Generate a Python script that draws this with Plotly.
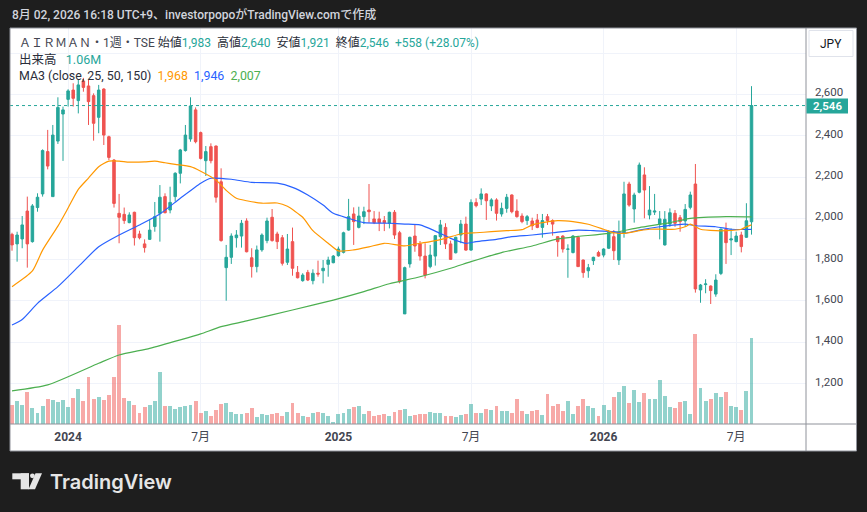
import plotly.graph_objects as go
import pandas as pd

# ---------------- data (weekly bars, AIRMAN / TSE) ----------------
start_week = "2023-10-16"

opens = [1922, 1876, 1900, 2035, 1887, 2052, 2118, 2323, 2105, 2374,
         2505, 2576, 2621, 2570, 2665, 2641, 2594, 2489, 2626, 2395,
         2282, 2024, 2019, 1979, 2029, 1924, 1876, 1898, 1960, 2024,
         2105, 2040, 2105, 2218, 2328, 2384, 2525, 2415, 2279, 2347,
         2350, 2177, 1761, 1811, 1906, 1914, 1987, 1809, 1766, 1847,
         1892, 2005, 1924, 1906, 1787, 1887, 1738, 1698, 1738, 1698,
         1734, 1746, 1777, 1785, 1819, 1835, 1943, 2021, 1956, 2008,
         2040, 1997, 1997, 1989, 1976, 2029, 1930, 1537, 1779, 1914,
         1876, 1817, 1766, 1817, 1911, 1956, 1876, 1833, 1919, 1972,
         1846, 2076, 2093, 2118, 2060, 2089, 2021, 2048, 2113, 2035,
         2011, 1989, 1987, 1992, 1956, 2008, 1989, 1911, 1914, 1850,
         1834, 1908, 1798, 1746, 1795, 1834, 1822, 1855, 1911, 1798,
         1927, 2166, 2045, 2126, 2210, 2016, 2030, 1971, 1871, 1972,
         2024, 2003, 1987, 2053, 2166, 1653, 1679, 1672, 1633, 1733,
         1947, 1895, 1887, 1919, 1908, 1983]
highs = [1930, 1935, 2011, 2105, 2069, 2121, 2334, 2428, 2452, 2586,
         2541, 2625, 2654, 2670, 2680, 2670, 2605, 2646, 2630, 2400,
         2287, 2118, 2052, 2029, 2032, 1940, 1898, 1992, 2079, 2161,
         2121, 2153, 2223, 2336, 2452, 2586, 2537, 2420, 2350, 2363,
         2352, 2242, 1871, 1927, 1943, 1992, 2000, 1855, 1868, 1927,
         2003, 2045, 1935, 1919, 1924, 1955, 1769, 1734, 1750, 1753,
         1795, 1798, 1814, 1822, 1863, 1935, 2094, 2053, 2056, 2056,
         2166, 2035, 2032, 2011, 2032, 2040, 1939, 1766, 1911, 1968,
         1890, 1879, 1871, 1919, 1992, 1976, 1892, 1911, 1992, 2008,
         2092, 2097, 2145, 2121, 2097, 2097, 2076, 2118, 2116, 2092,
         2024, 2016, 2003, 2021, 2021, 2021, 1995, 1914, 1918, 1874,
         1919, 1911, 1800, 1779, 1814, 1843, 1855, 1943, 1943, 1989,
         2177, 2177, 2124, 2270, 2247, 2156, 2118, 2035, 2035, 2048,
         2040, 2016, 2069, 2129, 2263, 1682, 1705, 1675, 1729, 1951,
         1979, 1951, 1935, 1935, 2073, 2640]
lows = [1843, 1790, 1855, 1761, 1882, 2032, 2105, 2237, 2105, 2360,
        2278, 2541, 2541, 2508, 2613, 2452, 2376, 2412, 2355, 2282,
        2052, 1879, 1973, 1976, 1868, 1898, 1834, 1895, 1935, 1887,
        2024, 2024, 2081, 2169, 2323, 2371, 2363, 2285, 2205, 2266,
        2076, 1887, 1601, 1779, 1858, 1858, 1835, 1713, 1738, 1838,
        1879, 1887, 1851, 1771, 1774, 1722, 1709, 1693, 1696, 1680,
        1717, 1685, 1717, 1782, 1814, 1830, 1940, 1871, 1951, 1972,
        1979, 1972, 1938, 1938, 1951, 1900, 1685, 1537, 1761, 1838,
        1795, 1709, 1758, 1771, 1871, 1851, 1798, 1830, 1879, 1843,
        1843, 2053, 2064, 1992, 2035, 1989, 2008, 2027, 2024, 2003,
        1976, 1968, 1943, 1952, 1906, 1968, 1916, 1814, 1834, 1712,
        1830, 1766, 1712, 1712, 1774, 1814, 1811, 1851, 1798, 1774,
        1906, 2056, 1979, 2121, 2000, 1995, 2016, 1898, 1868, 1959,
        1959, 1935, 1959, 2043, 1640, 1591, 1637, 1585, 1620, 1725,
        1779, 1822, 1884, 1835, 1905, 1921]
closes = [1871, 1919, 1968, 1876, 2060, 2102, 2328, 2253, 2403, 2537,
          2525, 2617, 2581, 2646, 2634, 2565, 2460, 2621, 2403, 2295,
          2072, 2005, 1989, 2016, 1906, 1906, 1858, 1943, 2008, 2102,
          2027, 2077, 2218, 2331, 2403, 2544, 2371, 2290, 2323, 2279,
          2102, 1892, 1811, 1914, 1919, 1976, 1838, 1766, 1847, 1919,
          1987, 1892, 1887, 1782, 1851, 1758, 1712, 1725, 1701, 1734,
          1730, 1758, 1798, 1817, 1851, 1930, 2008, 1984, 2011, 2032,
          2032, 1979, 1979, 1979, 2029, 1919, 1693, 1761, 1908, 1866,
          1817, 1725, 1822, 1916, 1968, 1876, 1801, 1908, 1972, 1846,
          2077, 2061, 2118, 2085, 2089, 2024, 2048, 2102, 2032, 2008,
          1984, 2008, 1964, 1956, 1989, 1989, 1972, 1887, 1851, 1851,
          1914, 1766, 1737, 1761, 1811, 1817, 1851, 1932, 1843, 1930,
          2118, 2064, 2113, 2258, 2137, 2040, 2035, 1997, 1995, 2027,
          1976, 1984, 2043, 2113, 1658, 1677, 1682, 1650, 1701, 1947,
          1882, 1900, 1914, 1863, 1988, 2546]
volume_m = [0.235, 0.285, 0.235, 0.396, 0.198, 0.136, 0.223, 0.309, 0.297, 0.272,
            0.297, 0.210, 0.322, 0.433, 0.285, 0.581, 0.309, 0.334, 0.297, 0.359,
            0.581, 1.225, 0.322, 0.285, 0.235, 0.136, 0.210, 0.235, 0.285, 0.643,
            0.223, 0.223, 0.186, 0.210, 0.223, 0.235, 0.285, 0.136, 0.161, 0.099,
            0.173, 0.247, 0.260, 0.148, 0.124, 0.124, 0.136, 0.198, 0.087, 0.124,
            0.111, 0.124, 0.136, 0.099, 0.148, 0.260, 0.136, 0.099, 0.087, 0.136,
            0.148, 0.136, 0.099, 0.025, 0.124, 0.136, 0.186, 0.210, 0.223, 0.124,
            0.161, 0.099, 0.111, 0.124, 0.099, 0.148, 0.173, 0.186, 0.099, 0.111,
            0.124, 0.124, 0.148, 0.136, 0.136, 0.099, 0.099, 0.087, 0.111, 0.124,
            0.247, 0.136, 0.136, 0.186, 0.173, 0.223, 0.161, 0.161, 0.136, 0.309,
            0.161, 0.124, 0.161, 0.173, 0.111, 0.371, 0.223, 0.247, 0.161, 0.285,
            0.124, 0.223, 0.309, 0.223, 0.198, 0.099, 0.235, 0.173, 0.334, 0.396,
            0.470, 0.260, 0.421, 0.272, 0.384, 0.309, 0.309, 0.544, 0.346, 0.210,
            0.198, 0.272, 0.285, 0.124, 1.113, 0.445, 0.285, 0.309, 0.384, 0.334,
            0.396, 0.223, 0.210, 0.173, 0.408, 1.060]

# moving averages (bar index, value)
ma25_idx = [0, 4, 6, 9, 11, 13, 15, 17, 19, 21, 23, 26, 28, 30, 32, 35, 37, 40, 42, 44,
            46, 49, 52, 54, 57, 59, 62, 64, 67, 70, 73, 77, 80, 82, 85, 88, 91, 94, 97, 100,
            102, 104, 107, 110, 113, 116, 118, 120, 123, 125, 128, 130, 132, 133, 135, 138,
            140, 143, 144, 145]
ma25_val = [1669, 1745, 1846, 1962, 2050, 2140, 2195, 2250, 2277, 2277, 2272, 2273, 2277,
            2269, 2261, 2250, 2228, 2185, 2135, 2097, 2085, 2073, 2074, 2058, 2005, 1940,
            1879, 1842, 1847, 1862, 1879, 1866, 1879, 1887, 1903, 1924, 1930, 1935, 1940,
            1945, 1968, 1979, 1989, 1984, 1971, 1947, 1930, 1927, 1940, 1947, 1947, 1947,
            1959, 1972, 1947, 1940, 1940, 1947, 1959, 1968]
ma50_idx = [0, 2, 5, 9, 13, 17, 21, 25, 29, 33, 37, 39, 43, 47, 52, 55, 58, 61, 63, 66,
            69, 74, 77, 80, 83, 86, 89, 91, 95, 98, 102, 106, 111, 114, 118, 120, 123, 127,
            132, 134, 138, 141, 145]
ma50_val = [1483, 1510, 1588, 1669, 1766, 1862, 1919, 1968, 2021, 2097, 2170, 2194, 2189,
            2174, 2170, 2150, 2113, 2064, 2024, 2000, 1979, 1976, 1972, 1968, 1938, 1903,
            1879, 1887, 1898, 1911, 1919, 1930, 1943, 1940, 1935, 1927, 1943, 1959, 1972,
            1964, 1959, 1947, 1946]
ma150_idx = [0, 7, 17, 21, 27, 33, 37, 41, 46, 55, 63, 69, 74, 80, 86, 90, 96, 102, 107,
             111, 117, 123, 129, 133, 140, 145]
ma150_val = [1164, 1193, 1298, 1338, 1370, 1411, 1440, 1475, 1503, 1556, 1604, 1645, 1683,
             1717, 1758, 1790, 1834, 1866, 1900, 1912, 1927, 1955, 1979, 2000, 2008, 2007]

x_tick_idx = [11, 37, 64, 90, 116, 142]
x_tick_text = ["<b>2024</b>", "7月", "<b>2025</b>", "7月", "<b>2026</b>", "7月"]
price_ticks = [1200, 1400, 1600, 1800, 2000, 2200, 2400, 2600, 2800]
price_tick_text = ["1,200", "1,400", "1,600", "1,800", "2,000", "2,200", "2,400", "2,600", ""]

# ---------------- styling ----------------
UP = "#26a69a"
DOWN = "#ef5350"
UP_VOL = "rgba(38,166,154,0.5)"
DOWN_VOL = "rgba(239,83,80,0.5)"
C_MA25, C_MA50, C_MA150 = "#ff9800", "#2962ff", "#4caf50"
GRID = "#f0f3fa"
TXT = "#2a2e39"
FONT = "Roboto, Noto Sans CJK JP, sans-serif"

W, H = 867, 512
PL, PR, PT, PB = 10, 806, 28, 424          # plot area in pixels
PX_PER_WEEK = 5.1
PRICE_MIN, PRICE_MAX = 1003.8, 2921.6
VOL_MAX = 4.898


def fx(px):
    return (px - PL) / (PR - PL)


def fy(py):
    return (PB - py) / (PB - PT)


def py_of_price(p):
    return (p - PRICE_MIN) / (PRICE_MAX - PRICE_MIN)


dates = pd.date_range(start_week, periods=len(closes), freq="7D")
week = pd.Timedelta(days=7)
x_left = dates[0] - week * (2 / PX_PER_WEEK)
x_right = x_left + week * ((PR - PL) / PX_PER_WEEK)

vol_colors = [UP_VOL if c >= o else DOWN_VOL for o, c in zip(opens, closes)]

fig = go.Figure()
fig.add_trace(go.Bar(
    x=dates, y=volume_m, yaxis="y", marker=dict(color=vol_colors, line=dict(width=0)),
    width=week.total_seconds() * 1000 * 0.78, hoverinfo="skip", showlegend=False))
fig.add_trace(go.Candlestick(
    x=dates, open=opens, high=highs, low=lows, close=closes, yaxis="y2",
    increasing=dict(line=dict(color=UP, width=1), fillcolor=UP),
    decreasing=dict(line=dict(color=DOWN, width=1), fillcolor=DOWN),
    whiskerwidth=0, hoverinfo="skip", showlegend=False))
for idx, val, col in [(ma150_idx, ma150_val, C_MA150), (ma50_idx, ma50_val, C_MA50),
                      (ma25_idx, ma25_val, C_MA25)]:
    fig.add_trace(go.Scatter(
        x=[dates[i] for i in idx], y=val, yaxis="y2", mode="lines",
        line=dict(color=col, width=1.2, shape="spline", smoothing=0.6),
        hoverinfo="skip", showlegend=False))

LAST_Y = py_of_price(closes[-1])
BOX_C = LAST_Y - 0.5 / (PB - PT)
shapes = [
    dict(type="rect", xref="paper", yref="paper", x0=fx(10), x1=fx(856.5), y0=fy(451), y1=fy(28),
         fillcolor="white", line=dict(width=0), layer="below"),
    dict(type="line", xref="paper", yref="paper", x0=0, x1=1, y0=LAST_Y, y1=LAST_Y,
         line=dict(color=UP, width=1, dash="dot")),
    dict(type="line", xref="paper", yref="paper", x0=fx(806), x1=fx(806), y0=fy(451), y1=fy(28),
         line=dict(color="#8f929a", width=1)),
    dict(type="line", xref="paper", yref="paper", x0=fx(10), x1=fx(856.5), y0=fy(424), y1=fy(424),
         line=dict(color="#8f929a", width=1)),
    dict(type="rect", xref="paper", yref="paper", x0=fx(10), x1=fx(856.5), y0=fy(451), y1=fy(28),
         line=dict(color="#8f929a", width=1), fillcolor="rgba(0,0,0,0)"),
    dict(type="rect", xref="paper", yref="paper", x0=fx(809), x1=fx(853), y0=fy(56.5), y1=fy(30.5),
         line=dict(color="#e0e3eb", width=1), fillcolor="white"),
    dict(type="rect", xref="paper", yref="paper", x0=fx(806.5), x1=fx(848),
         y0=BOX_C - 7.5 / (PB - PT), y1=BOX_C + 7.5 / (PB - PT),
         line=dict(width=0), fillcolor=UP),
    # TradingView logo mark
    dict(type="rect", xref="paper", yref="paper", x0=fx(12.3), x1=fx(29), y0=fy(479.3), y1=fy(473.3),
         line=dict(width=0), fillcolor="#e6e6e6"),
    dict(type="rect", xref="paper", yref="paper", x0=fx(20.7), x1=fx(29), y0=fy(489.3), y1=fy(473.3),
         line=dict(width=0), fillcolor="#e6e6e6"),
    dict(type="circle", xref="paper", yref="paper", x0=fx(30), x1=fx(34.8), y0=fy(478.2), y1=fy(473.4),
         line=dict(width=0), fillcolor="#e6e6e6"),
    dict(type="path", xref="paper", yref="paper",
         path=f"M {fx(35.5)},{fy(473.3)} L {fx(42)},{fy(473.3)} L {fx(35)},{fy(489.3)} L {fx(28.5)},{fy(489.3)} Z",
         line=dict(width=0), fillcolor="#e6e6e6"),
]


def span(t, c):
    return f'<span style="color:{c}">{t}</span>'


line1 = (span("ＡＩＲＭＡＮ・1週・TSE", "#434651") + " " + span("始値", TXT) + span("1,983", UP) + "  "
         + span("高値", TXT) + span("2,640", UP) + "  " + span("安値", TXT) + span("1,921", UP) + "  "
         + span("終値", TXT) + span("2,546", UP) + "  " + span("+558 (+28.07%)", UP))
line2 = span("出来高", TXT) + "   " + span("1.06M", UP)
line3 = (span("MA3 (close, 25, 50, 150)", TXT) + "  " + span("1,968", C_MA25) + "  "
         + span("1,946", C_MA50) + "  " + span("2,007", C_MA150))

annotations = [
    dict(text="8月 02, 2026 16:18 UTC+9、investorpopoがTradingView.comで作成", xref="paper", yref="paper",
         x=fx(10), y=fy(15), xanchor="left", yanchor="middle", showarrow=False,
         font=dict(family=FONT, size=12, color="#d1d4dc", weight=500)),
    dict(text=line1, xref="paper", yref="paper", x=fx(17), y=fy(42), xanchor="left", yanchor="middle",
         showarrow=False, font=dict(family=FONT, size=12, color=TXT)),
    dict(text=line2, xref="paper", yref="paper", x=fx(17), y=fy(59), xanchor="left", yanchor="middle",
         showarrow=False, font=dict(family=FONT, size=12.5, color=TXT)),
    dict(text=line3, xref="paper", yref="paper", x=fx(17), y=fy(75.5), xanchor="left", yanchor="middle",
         showarrow=False, font=dict(family=FONT, size=12.4, color=TXT)),
    dict(text="JPY", xref="paper", yref="paper", x=fx(831), y=fy(44), xanchor="center", yanchor="middle",
         showarrow=False, font=dict(family=FONT, size=12, color="#131722")),
    dict(text="2,546", xref="paper", yref="paper", x=fx(827), y=BOX_C, xanchor="center",
         yanchor="middle", showarrow=False, font=dict(family=FONT, size=11.5, color="white", weight=600)),
    dict(text="TradingView", xref="paper", yref="paper", x=fx(48), y=fy(482), xanchor="left",
         yanchor="middle", showarrow=False, font=dict(family="Inter, Roboto, sans-serif", size=20,
                                                       color="#e6e6e6", weight=600)),
]

fig.update_layout(
    width=W, height=H, margin=dict(l=PL, r=W - PR, t=PT, b=H - PB),
    paper_bgcolor="#1e1e1e", plot_bgcolor="white", bargap=0, showlegend=False,
    font=dict(family=FONT, color=TXT),
    xaxis=dict(type="date", range=[x_left, x_right], rangeslider=dict(visible=False),
               tickvals=[dates[i] for i in x_tick_idx], ticktext=x_tick_text,
               showgrid=True, gridcolor=GRID, gridwidth=1, ticks="", showline=False, zeroline=False,
               tickfont=dict(family=FONT, size=12, color="#434651"), ticklabelstandoff=4, fixedrange=True),
    yaxis=dict(range=[0, VOL_MAX], visible=False, showgrid=False, fixedrange=True),
    yaxis2=dict(overlaying="y", side="right", range=[PRICE_MIN, PRICE_MAX], tickvals=price_ticks,
                ticktext=price_tick_text, showgrid=True, gridcolor=GRID, gridwidth=1, ticks="",
                showline=False, zeroline=False, tickfont=dict(family=FONT, size=11.5, color="#434651"),
                ticklabelstandoff=8, ticklabelshift=-2, fixedrange=True),
    shapes=shapes, annotations=annotations,
)

fig.write_html("out.html", config={"displayModeBar": False},
               post_script="document.body.style.margin='0';document.body.style.background='#1e1e1e';")
